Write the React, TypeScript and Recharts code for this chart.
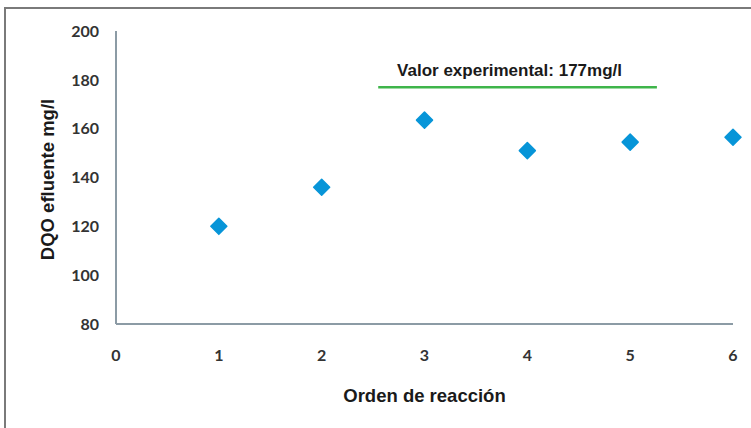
import { ReferenceLine, Scatter, ScatterChart, XAxis, YAxis } from "recharts";

const ORDERS = [1, 2, 3, 4, 5, 6];
const DQO = [120, 136, 163.5, 151, 154.5, 156.5];
const X_TICKS = [0, 1, 2, 3, 4, 5, 6];
const Y_TICKS = [80, 100, 120, 140, 160, 180, 200];
const EXPERIMENTAL = 177;
const EXPERIMENTAL_SPAN = [2.55, 5.26];

const points = ORDERS.map((x, i) => ({ x, y: DQO[i] }));

const AXIS = "#8c9ba5";
const TICK = { fontFamily: "Lato", fontSize: 16, fontWeight: 700, fill: "#333" };
const TITLE = { fontFamily: "Liberation Sans", fontSize: 17, fontWeight: 700, fill: "#1a1a1a" };
const AXIS_TITLE = { ...TITLE, fontSize: 18.5 };

function Diamond(props: { cx?: number; cy?: number }) {
  const { cx = 0, cy = 0 } = props;
  const r = 8;
  return (
    <path
      d={`M${cx},${cy - r} L${cx + r},${cy} L${cx},${cy + r} L${cx - r},${cy} Z`}
      fill="#0795d8"
      stroke="#0795d8"
      strokeWidth={1.5}
      strokeLinejoin="round"
    />
  );
}

export default function App() {
  return (
    <div style={{ position: "absolute", left: 0, top: 0, width: 751, height: 428, background: "#fff" }}>
      <div
        style={{
          position: "absolute",
          left: 4,
          top: 7,
          width: 760,
          height: 440,
          borderTop: "2px solid #7a7a7a",
          borderLeft: "2px solid #7a7a7a",
        }}
      />
      <ScatterChart
        width={751}
        height={428}
        margin={{ top: 31, right: 18, left: 56, bottom: 54 }}
        style={{ position: "absolute", left: 0, top: 0 }}
      >
        <XAxis
          type="number"
          dataKey="x"
          domain={[0, 6]}
          ticks={X_TICKS}
          tickLine={false}
          tickMargin={20}
          height={50}
          axisLine={{ stroke: AXIS, strokeWidth: 2 }}
          tick={TICK}
          interval={0}
          label={{ value: "Orden de reacción", position: "insideBottom", offset: 2, dy: 30, style: AXIS_TITLE }}
        />
        <YAxis
          type="number"
          dataKey="y"
          domain={[80, 200]}
          ticks={Y_TICKS}
          tickLine={false}
          tickMargin={11}
          width={60}
          axisLine={{ stroke: AXIS, strokeWidth: 2 }}
          tick={TICK}
          interval={0}
          label={{ value: "DQO efluente mg/l", angle: -90, position: "center", dx: -39, dy: 2, style: AXIS_TITLE }}
        />
        <ReferenceLine
          segment={[
            { x: EXPERIMENTAL_SPAN[0], y: EXPERIMENTAL },
            { x: EXPERIMENTAL_SPAN[1], y: EXPERIMENTAL },
          ]}
          stroke="#3fb54a"
          strokeWidth={2.5}
          label={{
            value: `Valor experimental: ${EXPERIMENTAL}mg/l`,
            position: "top",
            offset: 11,
            dx: -8,
            style: TITLE,
          }}
        />
        <Scatter data={points} shape={<Diamond />} isAnimationActive={false} />
      </ScatterChart>
    </div>
  );
}
